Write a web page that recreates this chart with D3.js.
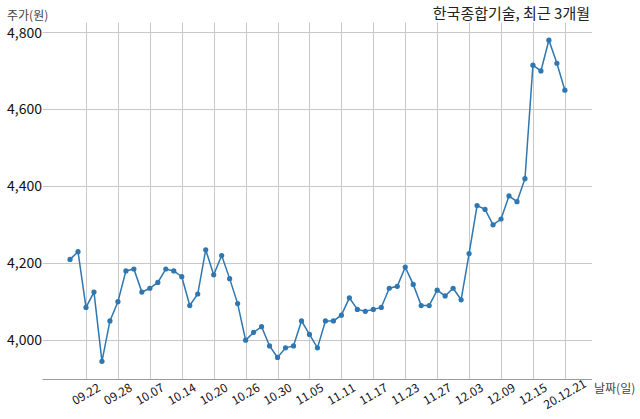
<!DOCTYPE html>
<html>
<head>
<meta charset="utf-8">
<script src="https://cdn.jsdelivr.net/npm/d3@7"></script>
<style>
  body { margin: 0; background: #fff; }
  svg text { font-family: "Noto Sans CJK KR", "Open Sans", sans-serif; }
</style>
</head>
<body>
<div id="chart"></div>
<script>
// trading days, 2020.09.18 - 2020.12.21
const dates = [
  "09.18","09.21","09.22","09.23","09.24","09.25","09.28","09.29",
  "10.05","10.06","10.07","10.08","10.12","10.13","10.14","10.15","10.16","10.19","10.20",
  "10.21","10.22","10.23","10.26","10.27","10.28","10.29","10.30",
  "11.02","11.03","11.04","11.05","11.06","11.09","11.10","11.11","11.12","11.13",
  "11.16","11.17","11.18","11.19","11.20","11.23","11.24","11.25","11.26","11.27",
  "11.30","12.01","12.02","12.03","12.04","12.07","12.08","12.09","12.10","12.11",
  "12.14","12.15","12.16","12.17","12.18","12.21"
];
const prices = [
  4210, 4230, 4085, 4125, 3945, 4050, 4100, 4180,
  4185, 4125, 4135, 4150, 4185, 4180, 4165, 4090, 4120, 4235, 4170,
  4220, 4160, 4095, 4000, 4020, 4035, 3985, 3955,
  3980, 3985, 4050, 4015, 3980, 4050, 4050, 4065, 4110, 4080,
  4075, 4080, 4085, 4135, 4140, 4190, 4145, 4090, 4090, 4130,
  4115, 4135, 4105, 4225, 4350, 4340, 4300, 4315, 4375, 4360,
  4420, 4715, 4700, 4780, 4720, 4650
];
const tickIdx = [2, 6, 10, 14, 18, 22, 26, 30, 34, 38, 42, 46, 50, 54, 58, 62];
const tickLabels = ["09.22","09.28","10.07","10.14","10.20","10.26","10.30","11.05",
  "11.11","11.17","11.23","11.27","12.03","12.09","12.15","20.12.21"];
const yTicks = [4000, 4200, 4400, 4600, 4800];

const W = 640, H = 419;
const m = {left: 42.5, right: 592, top: 22.5, bottom: 379};

const svg = d3.select("#chart").append("svg")
  .attr("width", W).attr("height", H);

const x = d3.scaleLinear().domain([-3.45, 65.4]).range([m.left, m.right]);
const y = d3.scaleLinear().domain([3899, 4826]).range([m.bottom, m.top]);

// grid
svg.append("g").selectAll("line")
  .data(yTicks).enter().append("line")
  .attr("x1", m.left).attr("x2", m.right)
  .attr("y1", d => Math.round(y(d)) + 0.5).attr("y2", d => Math.round(y(d)) + 0.5)
  .attr("stroke", "#c8c8c8").attr("stroke-width", 1);

svg.append("g").selectAll("line")
  .data(tickIdx).enter().append("line")
  .attr("x1", d => Math.round(x(d)) + 0.5).attr("x2", d => Math.round(x(d)) + 0.5)
  .attr("y1", m.top).attr("y2", m.bottom)
  .attr("stroke", "#c8c8c8").attr("stroke-width", 1);

// bottom spine
svg.append("line")
  .attr("x1", m.left).attr("x2", m.right)
  .attr("y1", m.bottom + 0.5).attr("y2", m.bottom + 0.5)
  .attr("stroke", "#9a9a9a").attr("stroke-width", 1);

// y labels
svg.append("g").selectAll("text")
  .data(yTicks).enter().append("text")
  .attr("x", 42).attr("y", d => y(d))
  .attr("dy", "0.36em")
  .attr("text-anchor", "end")
  .style("font-size", "14px").style("fill", "#111")
  .text(d => d3.format(",")(d));

// x labels, rotated
svg.append("g").selectAll("text")
  .data(tickIdx).enter().append("text")
  .attr("transform", d => `translate(${x(d)},${m.bottom + 15}) rotate(-30)`)
  .attr("text-anchor", "middle")
  .attr("dy", "0.36em")
  .style("font-size", "12px").style("fill", "#111")
  .text((d, i) => tickLabels[i]);

// line + markers
const line = d3.line()
  .x((d, i) => x(i))
  .y(d => y(d));

svg.append("path")
  .datum(prices)
  .attr("d", line)
  .attr("fill", "none")
  .attr("stroke", "#2f77b0")
  .attr("stroke-width", 1.5);

svg.append("g").selectAll("circle")
  .data(prices).enter().append("circle")
  .attr("cx", (d, i) => x(i))
  .attr("cy", d => y(d))
  .attr("r", 2.6)
  .attr("fill", "#2f77b0");

// titles
svg.append("text")
  .attr("x", 590).attr("y", 19)
  .attr("text-anchor", "end")
  .style("font-size", "15px").style("fill", "#222")
  .text("한국종합기술, 최근 3개월");

svg.append("text")
  .attr("x", 7).attr("y", 20)
  .style("font-size", "12px").style("fill", "#444")
  .text("주가(원)");

svg.append("text")
  .attr("x", 594).attr("y", 393)
  .style("font-size", "12px").style("fill", "#444")
  .text("날짜(일)");
</script>
</body>
</html>
